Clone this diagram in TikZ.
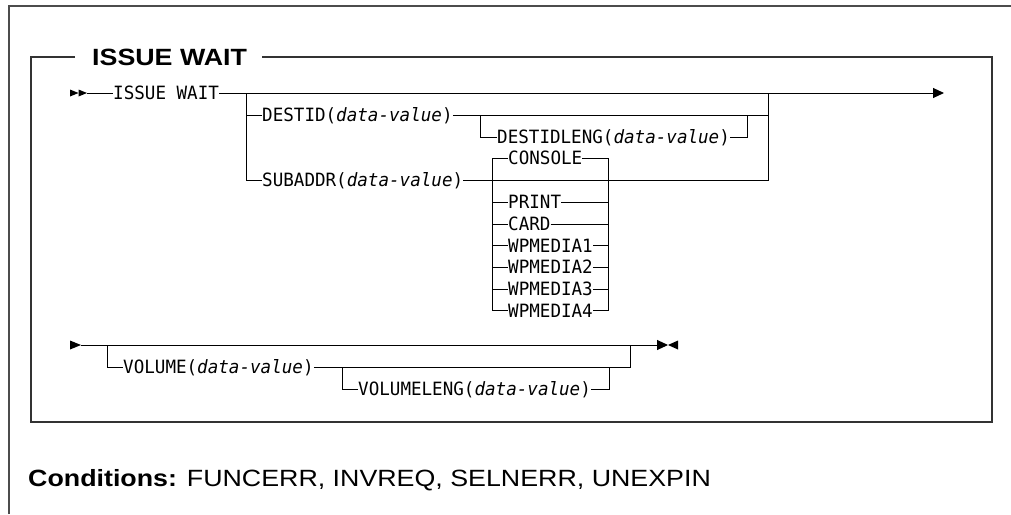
\documentclass[tikz,border=0pt]{standalone}
\usepackage{fontspec}
\setmainfont{Liberation Sans}
\newfontfamily\diagmono[FakeStretch=0.96]{DejaVu Sans Mono}
\usetikzlibrary{arrows.meta}
\tikzset{
  mono/.style={font=\diagmono\fontsize{18.3}{21}\selectfont, inner sep=0pt, text height=13.3pt, text depth=0pt, anchor=west},
  titletext/.style={font=\bfseries\fontsize{23.5}{28}\selectfont, inner sep=0pt, text height=16.8pt, text depth=0pt, anchor=west},
  condtext/.style={font=\fontsize{23.5}{28}\selectfont, inner sep=0pt, text height=16.8pt, text depth=0pt, anchor=west},
  rr/.style={line width=1pt, black},
  endtip/.style={-{Triangle[length=11pt,width=10pt]}},
  boxline/.style={line width=1.8pt, black!80},
  outerline/.style={line width=2pt, black!70},
}
\begin{document}
\begin{tikzpicture}[x=1pt,y=-1pt]
\useasboundingbox (0,0) rectangle (1011,514);
% frames
\draw[outerline] (9,514) -- (9,6) -- (1011,6);
\node[titletext] (title) at (92,57) {\scalebox{1.14}[1]{ISSUE WAIT}};
\coordinate (tl) at (75,57);
\coordinate (tr) at (262,57);
\draw[boxline] (tl) -- (31,57) -- (31,422) -- (992,422) -- (992,57) -- (tr);

% ---- section 1 ----
\fill (70,89.5) -- (78.5,93) -- (70,96.5) -- cycle;
\fill (78.5,89.5) -- (87,93) -- (78.5,96.5) -- cycle;
\coordinate (s1) at (87,93);
\node[mono] (issue) at (113,93) {ISSUE WAIT};
\coordinate (e1) at (944,93);
\draw[rr] (s1) -- (issue.west);
\draw[rr,endtip] (issue.east) -- (e1);

\node[mono] (destid) at (262,115) {DESTID(\textit{data-value})};
\node[mono] (destidleng) at (497,137) {DESTIDLENG(\textit{data-value})};
\node[mono] (subaddr) at (262,180) {SUBADDR(\textit{data-value})};

\coordinate (bl) at (246,93);
\coordinate (br) at (768,93);
\draw[rr] (bl) -- (246,180) -- (subaddr.west);
\draw[rr] (246,115) -- (destid.west);
\draw[rr] (destid.east) -- (768,115);
\draw[rr] (subaddr.east) -- (768,180) -- (br);
\draw[rr] (480,115) |- (destidleng.west);
\draw[rr] (destidleng.east) -| (747,115);

% options
\node[mono] (console) at (508,158) {CONSOLE};
\node[mono] (print) at (508,202) {PRINT};
\node[mono] (card) at (508,224) {CARD};
\node[mono] (wp1) at (508,245.5) {WPMEDIA1};
\node[mono] (wp2) at (508,267) {WPMEDIA2};
\node[mono] (wp3) at (508,289) {WPMEDIA3};
\node[mono] (wp4) at (508,310.5) {WPMEDIA4};
\draw[rr] (console.west) -- (492,158) -- (492,310.5) -- (wp4.west);
\draw[rr] (console.east) -- (608,158) -- (608,310.5) -- (wp4.east);
\foreach \n/\y in {print/202,card/224,wp1/245.5,wp2/267,wp3/289}{
  \draw[rr] (492,\y) -- (\n.west);
  \draw[rr] (\n.east) -- (608,\y);
}

% ---- section 2 ----
\fill (70,340.5) -- (81,345) -- (70,349.5) -- cycle;
\coordinate (s2) at (81,345);
\coordinate (e2) at (668,345);
\draw[rr,endtip] (s2) -- (e2);
\fill (678,340.5) -- (668,345) -- (678,349.5) -- cycle;

\node[mono] (volume) at (123,367) {VOLUME(\textit{data-value})};
\node[mono] (volumeleng) at (358,389) {VOLUMELENG(\textit{data-value})};
\draw[rr] (107,345) |- (volume.west);
\draw[rr] (volume.east) -| (630,345);
\draw[rr] (342,367) |- (volumeleng.west);
\draw[rr] (volumeleng.east) -| (609,367);

% conditions
\node[condtext] (cond) at (28,478) {\scalebox{1.14}[1]{\textbf{Conditions:} FUNCERR, INVREQ, SELNERR, UNEXPIN}};
\end{tikzpicture}
\end{document}
